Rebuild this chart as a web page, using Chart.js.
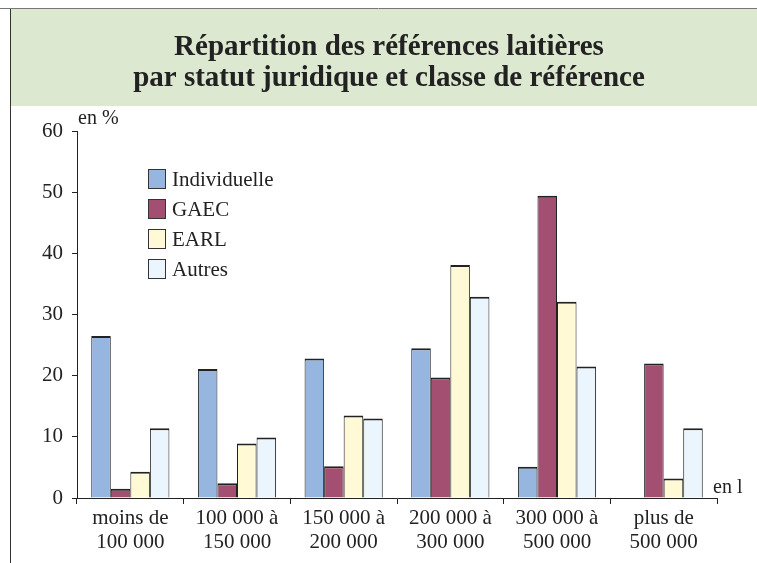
<!DOCTYPE html>
<html>
<head>
<meta charset="utf-8">
<script src="https://cdn.jsdelivr.net/npm/chart.js@4/dist/chart.umd.min.js"></script>
<style>
  body{margin:0;background:#fff;}
  canvas{display:block;}
</style>
</head>
<body>
<canvas id="refChart" width="757" height="563"></canvas>
<script>
const categories=[
  ["moins de","100 000"],
  ["100 000 à","150 000"],
  ["150 000 à","200 000"],
  ["200 000 à","300 000"],
  ["300 000 à","500 000"],
  ["plus de","500 000"]
];
const individuelle=[26.5, 21.1, 22.8, 24.5, 5.1, null];
const gaec=[1.5, 2.4, 5.2, 19.7, 49.4, 22.0];
const earl=[4.3, 8.9, 13.5, 38.1, 32.1, 3.2];
const autres=[11.4, 9.9, 13.0, 32.9, 21.5, 11.4];
const yTicks=[0,10,20,30,40,50,60];

const titleLines=["Répartition des références laitières","par statut juridique et classe de référence"];
const serif="'Liberation Serif', 'Times New Roman', serif";
const ink="#222";

// frame, green header band, title, unit labels and the legend
const decor={
  id:"decor",
  beforeDraw(chart){
    const c=chart.ctx;
    c.save();
    c.fillStyle="#dde8d0";
    c.fillRect(10,9,747,97);
    c.strokeStyle="#777";
    c.lineWidth=1;
    c.beginPath(); c.moveTo(0,8.5); c.lineTo(757,8.5); c.stroke();
    c.strokeStyle="#333";
    c.beginPath(); c.moveTo(10.5,9); c.lineTo(10.5,563); c.stroke();
    c.fillStyle=ink;
    c.textAlign="center";
    c.textBaseline="alphabetic";
    c.font="bold 29px "+serif;
    c.fillText(titleLines[0],389,55);
    c.fillText(titleLines[1],389,86);
    c.restore();
  },
  afterDraw(chart){
    const c=chart.ctx;
    c.save();
    c.fillStyle=ink;
    c.font="20px "+serif;
    c.textAlign="left";
    c.textBaseline="alphabetic";
    c.fillText("en %",78,124);
    c.fillText("en l",713,493);
    c.font="21px "+serif;
    c.textBaseline="middle";
    chart.data.datasets.forEach((ds,i)=>{
      const y=169+i*30;
      c.fillStyle=ds.backgroundColor;
      c.fillRect(148,y,18,20);
      c.strokeStyle="#333";
      c.lineWidth=1;
      c.strokeRect(148.5,y+0.5,17,19);
      c.fillStyle=ink;
      c.fillText(ds.label,172,y+11);
    });
    c.restore();
  }
};

const barBorder={top:2,left:1,right:1,bottom:0};

new Chart(document.getElementById("refChart"),{
  type:"bar",
  data:{
    labels:categories,
    datasets:[
      {label:"Individuelle",data:individuelle,backgroundColor:"#96b5df",borderColor:ink,borderWidth:barBorder},
      {label:"GAEC",data:gaec,backgroundColor:"#a24f72",borderColor:ink,borderWidth:barBorder},
      {label:"EARL",data:earl,backgroundColor:"#fffad5",borderColor:ink,borderWidth:barBorder},
      {label:"Autres",data:autres,backgroundColor:"#ebf5fd",borderColor:ink,borderWidth:barBorder}
    ]
  },
  options:{
    responsive:false,
    animation:false,
    devicePixelRatio:1,
    layout:{padding:{left:0,right:40,top:131,bottom:0}},
    datasets:{bar:{categoryPercentage:0.733,barPercentage:1}},
    plugins:{legend:{display:false},title:{display:false},tooltip:{enabled:false}},
    scales:{
      x:{
        grid:{display:true,drawOnChartArea:false,offset:true,tickLength:6,color:ink},
        border:{display:true,color:ink,width:1},
        ticks:{color:ink,font:{family:serif,size:21,lineHeight:1.15},padding:2,maxRotation:0},
        afterFit(s){ s.height=65; }
      },
      y:{
        min:0,max:60,
        afterBuildTicks(s){ s.ticks=yTicks.map(v=>({value:v})); },
        grid:{display:true,drawOnChartArea:false,tickLength:5,color:ink},
        border:{display:true,color:ink,width:1},
        ticks:{color:ink,font:{family:serif,size:21},padding:9},
        afterFit(s){ s.width=77; }
      }
    }
  },
  plugins:[decor]
});
</script>
</body>
</html>
